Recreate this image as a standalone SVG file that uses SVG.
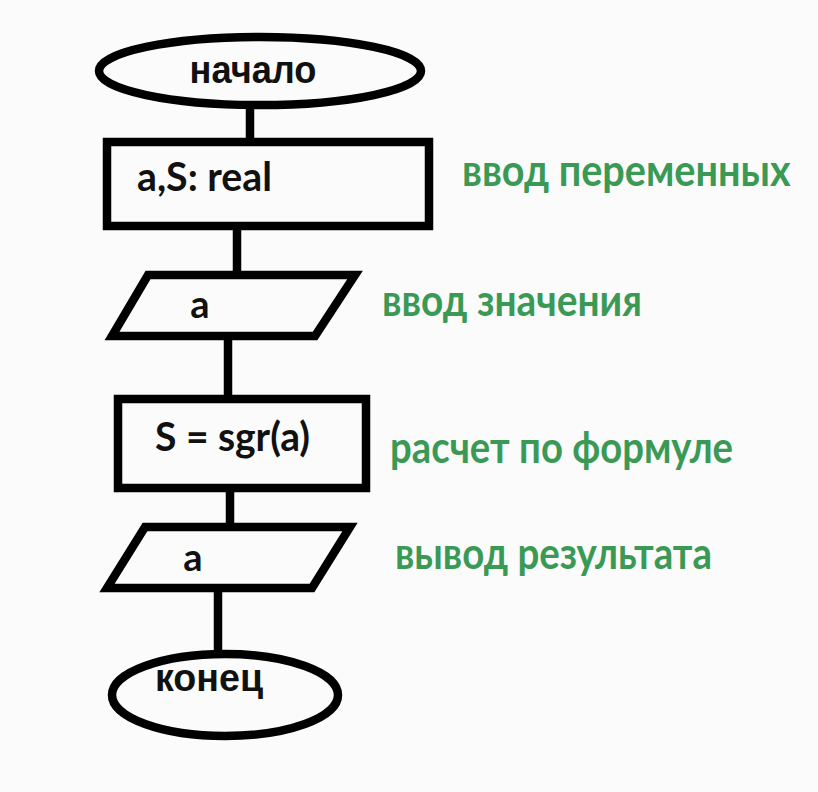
<svg xmlns="http://www.w3.org/2000/svg" width="818" height="792" viewBox="0 0 818 792">
<style>
.sh{fill:none;stroke:#000;stroke-width:8.5;stroke-linejoin:miter}
.cn{stroke:#000;stroke-width:8.5;fill:none}
.t{font-family:Lato,"Open Sans","Liberation Sans",sans-serif;font-weight:bold;fill:#111}
.ta{font-family:"Liberation Sans",Arial,sans-serif;font-weight:bold;fill:#111}
.g{font-family:Lato,"Open Sans","Liberation Sans",sans-serif;font-weight:bold;fill:#3a9955;font-size:44px}
</style>
<rect width="818" height="792" fill="#fbfbfb"/>
<g id="connectors">
<line class="cn" x1="250" y1="104" x2="250" y2="142"/>
<line class="cn" x1="237" y1="226" x2="237" y2="275"/>
<line class="cn" x1="228" y1="336" x2="228" y2="399"/>
<line class="cn" x1="230" y1="488" x2="230" y2="527"/>
<line class="cn" x1="218" y1="588" x2="218" y2="654"/>
</g>
<g id="start">
<ellipse class="sh" cx="260" cy="71" rx="161" ry="34" fill="#fbfbfb"/>
<text class="ta" x="253" y="83" font-size="38" text-anchor="middle" textLength="127" lengthAdjust="spacingAndGlyphs">начало</text>
</g>
<g id="declare">
<rect class="sh" x="107" y="142" width="322" height="84"/>
<text class="t" x="137" y="191" font-size="40" textLength="135" lengthAdjust="spacingAndGlyphs">a,S: real</text>
</g>
<g id="input">
<polygon class="sh" points="148,275 355,275 315,336 112,336"/>
<text class="t" x="200" y="318" font-size="38" text-anchor="middle">a</text>
</g>
<g id="calc">
<rect class="sh" x="118" y="399" width="248" height="89"/>
<text class="t" x="155" y="451" font-size="40" textLength="155" lengthAdjust="spacingAndGlyphs">S = sgr(a)</text>
</g>
<g id="output">
<polygon class="sh" points="145,527 350,527 312,588 107,588"/>
<text class="t" x="193" y="571" font-size="38" text-anchor="middle">a</text>
</g>
<g id="end">
<ellipse class="sh" cx="225" cy="695" rx="113" ry="41" fill="#fbfbfb"/>
<text class="ta" x="155" y="691" font-size="38" textLength="108" lengthAdjust="spacingAndGlyphs">конец</text>
</g>
<g id="labels">
<text class="g" transform="translate(462,186) scale(0.9,1)" font-size="43">ввод переменных</text>
<text class="g" x="382" y="316" textLength="260" lengthAdjust="spacingAndGlyphs">ввод значения</text>
<text class="g" x="390" y="463" textLength="343" lengthAdjust="spacingAndGlyphs">расчет по формуле</text>
<text class="g" x="395" y="569" textLength="317" lengthAdjust="spacingAndGlyphs">вывод результата</text>
</g>
</svg>
